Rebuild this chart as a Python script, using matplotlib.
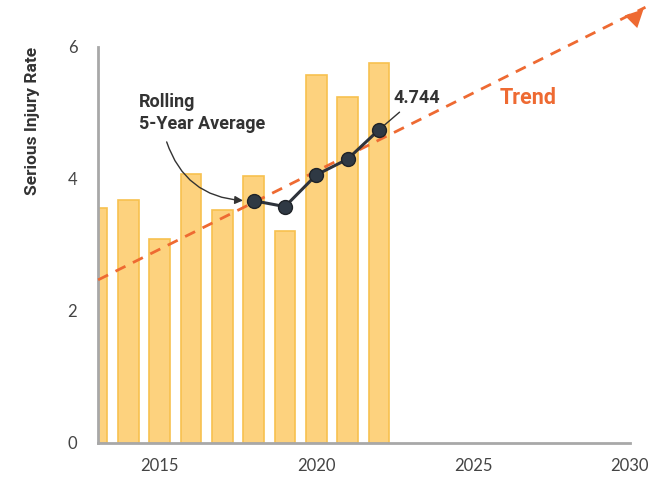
import matplotlib
matplotlib.use('Agg')
import matplotlib.pyplot as plt

plt.rcParams['font.family'] = ['Lato', 'DejaVu Sans']

# yearly serious injury rate
years = [2013, 2014, 2015, 2016, 2017, 2018, 2019, 2020, 2021, 2022]
rates = [3.56, 3.68, 3.09, 4.08, 3.53, 4.05, 3.21, 5.58, 5.24, 5.76]

# rolling 5-year average
avg_years = [2018, 2019, 2020, 2021, 2022]
avg_vals = [3.67, 3.58, 4.06, 4.30, 4.744]

# linear trend (start, end)
trend_years = [2013.04, 2030.5]
trend_vals = [2.47, 6.6]

xticks = [2015, 2020, 2025, 2030]
yticks = [0, 2, 4, 6]

bar_face = '#FDD27E'
bar_edge = '#F7C14F'
trend_col = '#EE6A32'
dark = '#2E333B'
bold_fam = ['Roboto', 'DejaVu Sans']

fig = plt.figure(figsize=(6.54, 4.79), dpi=100)
ax = fig.add_axes([0.150, 0.0752, 0.813, 0.827])

ax.bar(years, rates, width=0.66, color=bar_face, edgecolor=bar_edge, linewidth=1.2, zorder=2)

# trend line with arrow head
ax.plot(trend_years, trend_vals, linestyle=(0, (4, 3)), color=trend_col, linewidth=2,
        clip_on=False, zorder=3)
ax.annotate('', xy=(trend_years[1], trend_vals[1]),
            xytext=(trend_years[1] - 0.4, trend_vals[1] - 0.19),
            arrowprops=dict(arrowstyle='-|>', color=trend_col, lw=0, mutation_scale=32),
            annotation_clip=False, zorder=3)
ax.text(2026.75, 5.23, 'Trend', color=trend_col, fontsize=15.5, fontweight='bold',
        family=bold_fam, ha='center', va='center')

ax.plot(avg_years, avg_vals, color=dark, linewidth=2.2, marker='o', markersize=10,
        markerfacecolor='#2F3944', markeredgecolor='#1F2328', zorder=4)

ax.text(2014.35, 5.0, 'Rolling\n5-Year Average', color='#333333', fontsize=13,
        fontweight='bold', family=bold_fam, ha='left', va='center',
        linespacing=1.3)
ax.annotate('', xy=(avg_years[0] - 0.25, avg_vals[0]), xytext=(2015.2, 4.6),
            arrowprops=dict(arrowstyle='-|>', color='#333333', lw=1,
                            connectionstyle='arc3,rad=0.35', mutation_scale=12),
            zorder=5)

ax.annotate('{:.3f}'.format(avg_vals[-1]), xy=(avg_years[-1], avg_vals[-1]),
            xytext=(2022.45, 5.23), color='#333333', fontsize=13, fontweight='bold',
            family=bold_fam, va='center', ha='left',
            arrowprops=dict(arrowstyle='-', color='#333333', lw=1, shrinkA=3, shrinkB=5))

ax.set_xlim(2013.04, 2030)
ax.set_ylim(0, 6)
ax.set_xticks(xticks)
ax.set_yticks(yticks)
ax.tick_params(length=0, labelsize=12, labelcolor='#444444')
ax.tick_params(axis='y', pad=15)
ax.tick_params(axis='x', pad=11)

for s in ['top', 'right']:
    ax.spines[s].set_visible(False)
for s in ['left', 'bottom']:
    ax.spines[s].set_color('#A8A8A8')
    ax.spines[s].set_linewidth(2)

ax.set_ylabel('Serious Injury Rate', fontsize=12.5, fontweight='bold', color='#333333',
              family=bold_fam, labelpad=20, loc='top')

fig.savefig('out.png', dpi=100)
